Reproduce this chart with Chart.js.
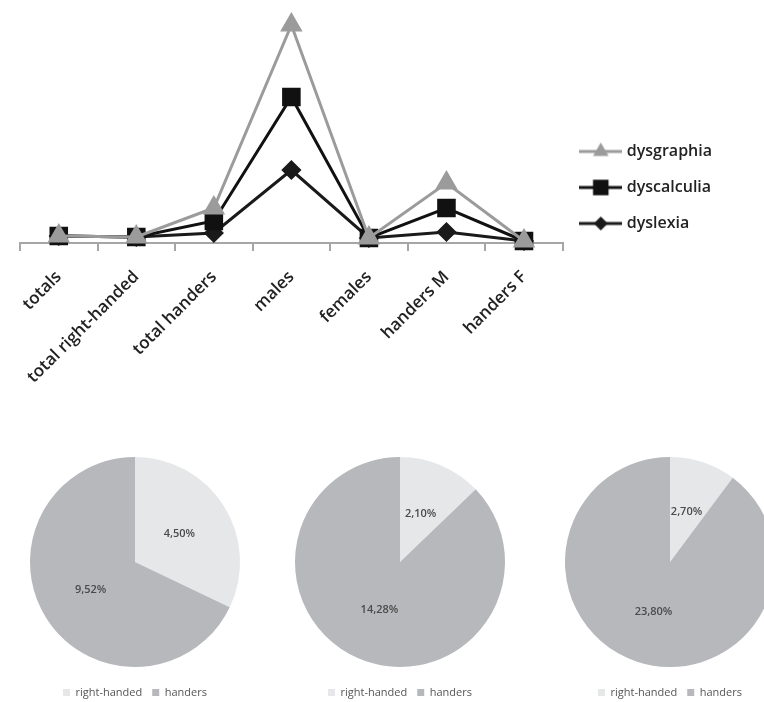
<!DOCTYPE html>
<html lang="en">
<head>
  <meta charset="UTF-8">
  <title>dysgraphia / dyscalculia / dyslexia</title>
  <script src="https://cdn.jsdelivr.net/npm/chart.js"></script>
  <style>
    html, body {
      margin: 0;
      padding: 0;
      background: #fff;
      width: 764px;
      height: 702px;
      overflow: hidden;
    }
    .page {
      position: relative;
      width: 764px;
      height: 702px;
      overflow: hidden;
    }
    .line-box {
      position: absolute;
      left: 0;
      top: 0;
      width: 764px;
      height: 400px;
    }
    .pie-box {
      position: absolute;
      top: 445px;
      width: 270px;
      height: 267px;
    }
  </style>
</head>
<body>
<div class="page">
  <div class="line-box"><canvas id="lineChart" width="764" height="400"></canvas></div>
  <div class="pie-box" style="left:0px"><canvas id="pie1" width="270" height="267"></canvas></div>
  <div class="pie-box" style="left:265px"><canvas id="pie2" width="270" height="267"></canvas></div>
  <div class="pie-box" style="left:535px"><canvas id="pie3" width="270" height="267"></canvas></div>
</div>

<script>
  // line chart data
  const categories = ['totals', 'total right-handed', 'total handers', 'males', 'females', 'handers M', 'handers F'];
  const dysgraphia = [0.7, 0.6, 3.5, 21.8, 0.5, 6.0, 0.2];
  const dyscalculia = [0.7, 0.6, 2.2, 14.6, 0.5, 3.5, 0.2];
  const dyslexia = [0.7, 0.6, 1.0, 7.3, 0.5, 1.1, 0.2];

  // pie data
  const pieLabels = ['right-handed', 'handers'];
  const pieTotals = [4.50, 9.52];
  const pieMales = [2.10, 14.28];
  const pieHanders = [2.70, 23.80];

  Chart.defaults.font.family = "'Open Sans', 'Noto Sans', sans-serif";
  Chart.defaults.animation = false;

  // small picture of line + marker for the legend
  function legendSample(color, shape, r) {
    const c = document.createElement('canvas');
    c.width = 43;
    c.height = 22;
    const g = c.getContext('2d');
    const cx = 21.5, cy = 11;
    g.strokeStyle = color;
    g.fillStyle = color;
    g.lineWidth = 3;
    g.beginPath();
    g.moveTo(0, cy);
    g.lineTo(43, cy);
    g.stroke();
    g.beginPath();
    if (shape === 'triangle') {
      g.moveTo(cx, cy - r);
      g.lineTo(cx + r * 0.866, cy + r * 0.5);
      g.lineTo(cx - r * 0.866, cy + r * 0.5);
    } else if (shape === 'rect') {
      const s = r * Math.SQRT1_2;
      g.rect(cx - s, cy - s, 2 * s, 2 * s);
    } else {
      g.moveTo(cx, cy - r);
      g.lineTo(cx + r, cy);
      g.lineTo(cx, cy + r);
      g.lineTo(cx - r, cy);
    }
    g.closePath();
    g.fill();
    return c;
  }

  const samples = [
    legendSample('#9b9b9b', 'triangle', 9),
    legendSample('#111111', 'rect', 11),
    legendSample('#1a1a1a', 'rectRot', 7)
  ];

  // moves a legend box up or down after layout
  function legendShift(dy) {
    return {
      id: 'legendShift',
      afterLayout(chart) {
        chart.legend.top += dy;
        chart.legend.bottom += dy;
      }
    };
  }

  new Chart(document.getElementById('lineChart').getContext('2d'), {
    type: 'line',
    data: {
      labels: categories,
      datasets: [{
        label: 'dysgraphia',
        data: dysgraphia,
        borderColor: '#9b9b9b',
        backgroundColor: '#9b9b9b',
        borderWidth: 3,
        pointStyle: 'triangle',
        pointRadius: 10,
        clip: false
      }, {
        label: 'dyscalculia',
        data: dyscalculia,
        borderColor: '#111111',
        backgroundColor: '#111111',
        borderWidth: 3,
        pointStyle: 'rect',
        pointRadius: 11,
        clip: false
      }, {
        label: 'dyslexia',
        data: dyslexia,
        borderColor: '#1a1a1a',
        backgroundColor: '#1a1a1a',
        borderWidth: 3,
        pointStyle: 'rectRot',
        pointRadius: 8,
        clip: false
      }]
    },
    options: {
      responsive: false,
      layout: {
        padding: { left: 20, top: 23, right: 42, bottom: 0 }
      },
      plugins: {
        tooltip: { enabled: false },
        legend: {
          position: 'right',
          labels: {
            usePointStyle: true,
            pointStyleWidth: 36,
            padding: 20,
            color: '#222',
            font: { size: 16, weight: '600' },
            generateLabels: function(chart) {
              const items = Chart.defaults.plugins.legend.labels.generateLabels(chart);
              items.forEach((it, i) => { it.pointStyle = samples[i]; });
              return items;
            }
          }
        }
      },
      scales: {
        x: {
          offset: true,
          grid: {
            display: true,
            offset: true,
            drawOnChartArea: false,
            drawTicks: true,
            tickLength: 8,
            color: '#a6a6a6',
            lineWidth: 2
          },
          border: { display: true, color: '#a6a6a6', width: 2 },
          ticks: {
            minRotation: 45,
            maxRotation: 45,
            autoSkip: false,
            padding: 16,
            color: '#222',
            font: { size: 17, weight: '600' }
          },
          afterFit: function(scale) {
            scale.height = 157;
            scale.paddingLeft = 0;
            scale.paddingRight = 0;
          }
        },
        y: {
          display: false,
          min: 0,
          max: 22
        }
      }
    },
    plugins: [legendShift(-24)]
  });

  // writes the value in the middle of each slice
  const sliceLabels = {
    id: 'sliceLabels',
    afterDatasetsDraw(chart) {
      const ctx = chart.ctx;
      const meta = chart.getDatasetMeta(0);
      const values = chart.data.datasets[0].data;
      ctx.save();
      ctx.font = "600 11px 'Open Sans', sans-serif";
      ctx.fillStyle = '#4a4a4a';
      ctx.textAlign = 'center';
      ctx.textBaseline = 'middle';
      meta.data.forEach((arc, i) => {
        const p = arc.tooltipPosition();
        ctx.fillText(values[i].toFixed(2).replace('.', ',') + '%', p.x, p.y);
      });
      ctx.restore();
    }
  };

  function makePie(id, values) {
    new Chart(document.getElementById(id).getContext('2d'), {
      type: 'pie',
      data: {
        labels: pieLabels,
        datasets: [{
          data: values,
          backgroundColor: ['#e6e7e9', '#b6b8bb'],
          borderWidth: 0
        }]
      },
      options: {
        responsive: false,
        layout: {
          padding: { top: 12, bottom: 14, left: 0, right: 0 }
        },
        plugins: {
          tooltip: { enabled: false },
          legend: {
            position: 'bottom',
            labels: {
              boxWidth: 7,
              boxHeight: 7,
              padding: 10,
              color: '#555',
              font: { size: 11 }
            }
          }
        }
      },
      plugins: [sliceLabels, legendShift(10)]
    });
  }

  makePie('pie1', pieTotals);
  makePie('pie2', pieMales);
  makePie('pie3', pieHanders);
</script>
</body>
</html>
